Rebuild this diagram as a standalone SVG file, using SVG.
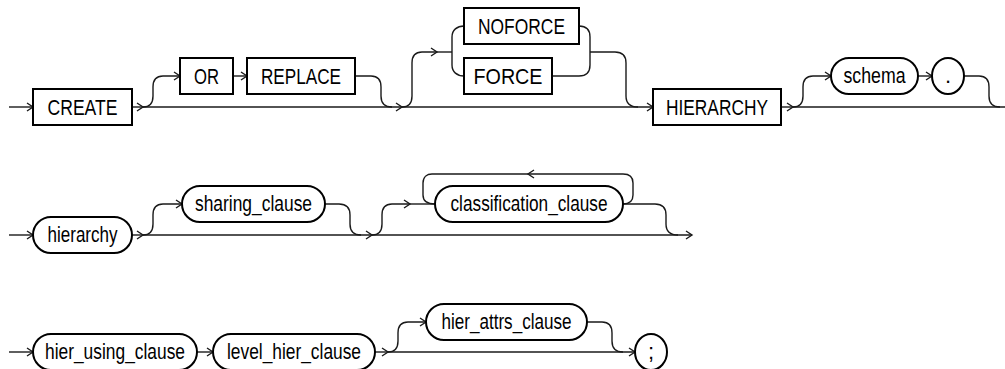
<svg xmlns="http://www.w3.org/2000/svg" width="1005" height="369" viewBox="0 0 1005 369">
<style>
.bg{fill:#fff}
.box{fill:#fff;stroke:#000;stroke-width:2}
.ln{fill:none;stroke:#1a1a1a;stroke-width:1.4}
.arr{fill:none;stroke:#1a1a1a;stroke-width:1.4}
.t{font-family:"Liberation Sans",Arial,sans-serif;font-size:22px;fill:#000;text-anchor:middle}
</style>
<defs>
<marker id="a" markerUnits="userSpaceOnUse" markerWidth="10" markerHeight="12" refX="7" refY="5" orient="auto" viewBox="0 0 10 12">
<path d="M1,1 L7,5 L1,9" fill="none" stroke="#1a1a1a" stroke-width="1.4"/>
</marker>
</defs>
<rect class="bg" x="0" y="0" width="1005" height="369"/>
<g id="connectors">
<!-- row 1 -->
<path class="ln" d="M9,107 L33,107" marker-end="url(#a)"/>
<path class="ln" d="M132,107 L143,107" marker-end="url(#a)"/>
<path class="ln" d="M143,107 L402,107" marker-end="url(#a)"/>
<path class="ln" d="M402,107 L653,107" marker-end="url(#a)"/>
<path class="ln" d="M781,107 L793,107" marker-end="url(#a)"/>
<path class="ln" d="M793,107 L1005,107"/>
<path class="ln" d="M143,107 C150,107 153,103 153,96 L153,87 C153,80 156,76 163,76 L180,76" marker-end="url(#a)"/>
<path class="ln" d="M233,76 L247,76" marker-end="url(#a)"/>
<path class="ln" d="M355,76 L371,76 C378,76 381,80 381,87 L381,96 C381,103 384,107 392,107"/>
<path class="ln" d="M402,107 C409,107 412,103 412,96 L412,63 C412,56 415,52 422,52 L437,52" marker-end="url(#a)"/>
<path class="ln" d="M437,52 L452,52"/>
<path class="ln" d="M464,26 C457,26 452,30 452,37 L452,65 C452,72 457,76 464,76"/>
<path class="ln" d="M579,26 C586,26 590,30 590,37 L590,65 C590,72 586,76 579,76 L552,76"/>
<path class="ln" d="M590,52 L615,52 C622,52 626,56 626,63 L626,96 C626,103 630,107 638,107"/>
<path class="ln" d="M793,107 C800,107 803,103 803,96 L803,87 C803,80 806,76 813,76 L831,76" marker-end="url(#a)"/>
<path class="ln" d="M918,76 L932,76" marker-end="url(#a)"/>
<path class="ln" d="M964,76 L979,76 C986,76 989,80 989,87 L989,96 C989,103 992,107 1000,107"/>
<!-- row 2 -->
<path class="ln" d="M9,235 L33,235" marker-end="url(#a)"/>
<path class="ln" d="M132,235 L143,235" marker-end="url(#a)"/>
<path class="ln" d="M143,235 L372,235" marker-end="url(#a)"/>
<path class="ln" d="M372,235 L692,235" marker-end="url(#a)"/>
<path class="ln" d="M143,235 C150,235 153,231 153,224 L153,215 C153,208 156,204 163,204 L182,204" marker-end="url(#a)"/>
<path class="ln" d="M325,204 L339,204 C346,204 350,208 350,215 L350,224 C350,231 353,235 361,235"/>
<path class="ln" d="M372,235 C379,235 382,231 382,224 L382,215 C382,208 385,204 392,204 L410,204" marker-end="url(#a)"/>
<path class="ln" d="M410,204 L435,204"/>
<path class="ln" d="M623,204 C629,204 633,201 633,195 L633,183 C633,177 629,174 623,174 L432,174 C427,174 423,177 423,183 L423,195 C423,201 427,204 435,204"/>
<path class="arr" d="M534,170 L528,174 L534,178"/>
<path class="ln" d="M623,204 L655,204 C662,204 666,208 666,215 L666,224 C666,231 670,235 678,235"/>
<!-- row 3 -->
<path class="ln" d="M9,352 L33,352" marker-end="url(#a)"/>
<path class="ln" d="M197,352 L213,352" marker-end="url(#a)"/>
<path class="ln" d="M375,352 L388,352" marker-end="url(#a)"/>
<path class="ln" d="M388,352 L635,352" marker-end="url(#a)"/>
<path class="ln" d="M388,352 C395,352 398,348 398,341 L398,333 C398,326 401,322 408,322 L426,322" marker-end="url(#a)"/>
<path class="ln" d="M587,322 L602,322 C609,322 612,326 612,333 L612,341 C612,348 616,352 623,352"/>
</g>
<g id="n-create"><rect class="box" x="33" y="89" width="99" height="36"/><text class="t" x="82.5" y="115" textLength="70" lengthAdjust="spacingAndGlyphs">CREATE</text></g>
<g id="n-or"><rect class="box" x="180" y="58" width="53" height="36"/><text class="t" x="206.5" y="84" textLength="25" lengthAdjust="spacingAndGlyphs">OR</text></g>
<g id="n-replace"><rect class="box" x="247" y="58" width="108" height="36"/><text class="t" x="301" y="84" textLength="80" lengthAdjust="spacingAndGlyphs">REPLACE</text></g>
<g id="n-noforce"><rect class="box" x="464" y="8" width="115" height="36"/><text class="t" x="521.5" y="34" textLength="87" lengthAdjust="spacingAndGlyphs">NOFORCE</text></g>
<g id="n-force"><rect class="box" x="464" y="58" width="88" height="36"/><text class="t" x="508" y="84" textLength="69" lengthAdjust="spacingAndGlyphs">FORCE</text></g>
<g id="n-hierarchy-kw"><rect class="box" x="653" y="89" width="128" height="36"/><text class="t" x="717" y="115" textLength="102" lengthAdjust="spacingAndGlyphs">HIERARCHY</text></g>
<g id="n-schema"><rect class="box" x="831" y="58" width="87" height="36" rx="18" ry="18"/><text class="t" x="874.5" y="83" textLength="62" lengthAdjust="spacingAndGlyphs">schema</text></g>
<g id="n-dot"><ellipse class="box" cx="948" cy="76" rx="16" ry="18"/><text class="t" x="948" y="83">.</text></g>
<g id="n-hierarchy"><rect class="box" x="33" y="217" width="99" height="36" rx="18" ry="18"/><text class="t" x="82.5" y="242" textLength="70" lengthAdjust="spacingAndGlyphs">hierarchy</text></g>
<g id="n-sharing"><rect class="box" x="182" y="186" width="143" height="36" rx="18" ry="18"/><text class="t" x="253.5" y="211" textLength="117" lengthAdjust="spacingAndGlyphs">sharing_clause</text></g>
<g id="n-classification"><rect class="box" x="435" y="186" width="188" height="36" rx="18" ry="18"/><text class="t" x="529" y="211" textLength="157" lengthAdjust="spacingAndGlyphs">classification_clause</text></g>
<g id="n-hier-using"><rect class="box" x="33" y="334" width="164" height="36" rx="18" ry="18"/><text class="t" x="115" y="359" textLength="140" lengthAdjust="spacingAndGlyphs">hier_using_clause</text></g>
<g id="n-level-hier"><rect class="box" x="213" y="334" width="162" height="36" rx="18" ry="18"/><text class="t" x="294" y="359" textLength="134" lengthAdjust="spacingAndGlyphs">level_hier_clause</text></g>
<g id="n-hier-attrs"><rect class="box" x="426" y="304" width="161" height="36" rx="18" ry="18"/><text class="t" x="506.5" y="329" textLength="130" lengthAdjust="spacingAndGlyphs">hier_attrs_clause</text></g>
<g id="n-semi"><ellipse class="box" cx="651" cy="352" rx="16" ry="18"/><text class="t" x="651" y="359">;</text></g>
</svg>
